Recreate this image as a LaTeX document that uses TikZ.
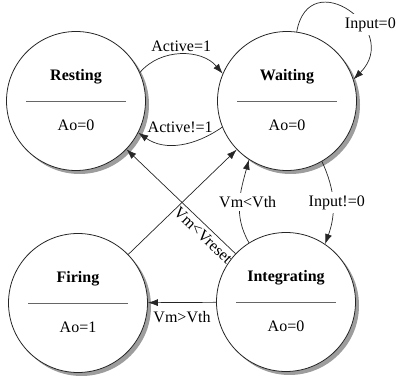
\documentclass[tikz,border=0pt]{standalone}
\usepackage{fontspec}
\setmainfont{Liberation Serif}
\usetikzlibrary{arrows.meta,shadows}

\begin{document}
\begin{tikzpicture}[x=1pt,y=1pt,
    state/.style={circle,draw=black!85,line width=0.8pt,fill=white,minimum size=139pt,inner sep=0pt,
        drop shadow={shadow xshift=3.5pt,shadow yshift=-3.5pt,fill=black!70,opacity=0.55}},
    trans/.style={-{Latex[length=10pt,width=7pt]},line width=0.7pt,draw=black!85},
    lab/.style={font=\fontsize{16}{19}\selectfont},
    title/.style={font=\fontsize{16}{19}\selectfont\bfseries},
    cover/.style={lab,fill=white}]
    \useasboundingbox (0,0) rectangle (396,377);
    \foreach \name/\x/\y/\title/\val in {resting/76/276/Resting/0,waiting/287/276/Waiting/0,firing/78/74/Firing/1,integrating/286/75/Integrating/0}
    {
        \node[state] (\name) at (\x,\y) {};
        \node[title] (\name-title) at (\x,\y+24) {\title};
        \draw[black!60,line width=0.7pt] (\x-50,\y) -- (\x+50,\y);
        \node[lab] (\name-val) at (\x,\y-24) {Ao=\val};
    }
    \draw[trans] (resting.24) to[out=50,in=130] node[lab,above,inner sep=2pt] (act) {Active=1} (waiting.157);
    \draw[trans] (waiting.202) to[out=215,in=-35] node[lab,above=8pt] (notact) {Active!=1} (resting.333);
    \draw[trans] (waiting.82) to[out=80,in=45,distance=70pt] node[cover,pos=0.65,xshift=8pt,yshift=3pt] (input) {Input=0} (waiting.18);
    \draw[trans] (waiting.-60) to[out=-65,in=70] node[cover,xshift=4pt] (notinput) {Input!=0} (integrating.56);
    \draw[trans] (integrating.122) to[out=120,in=-105] node[cover,xshift=8pt] (vth) {Vm<Vth} (waiting.237);
    \draw[trans] (integrating) -- node[lab,sloped,below,pos=0.24] (vreset) {Vm<Vreset} (resting);
    \draw[trans] (firing) -- (waiting);
    \draw[trans] (integrating) -- node[lab,below=5pt] (vgt) {Vm>Vth} (firing);
\end{tikzpicture}
\end{document}
